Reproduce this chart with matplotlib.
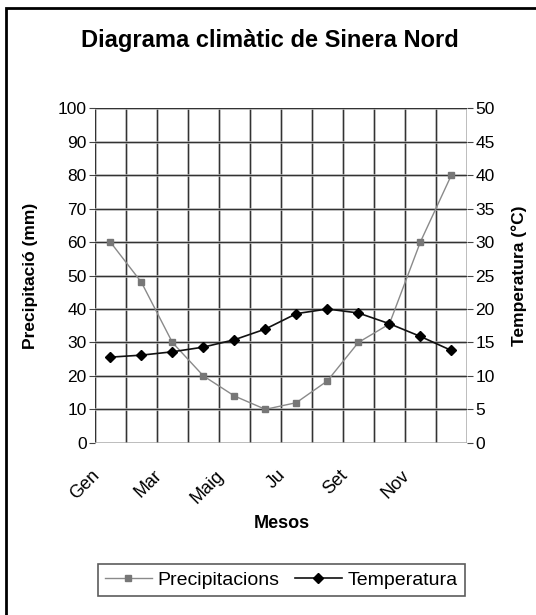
import matplotlib
matplotlib.use("Agg")
import matplotlib.pyplot as plt
from matplotlib.patches import Rectangle
from matplotlib.transforms import ScaledTranslation
import numpy as np

plt.rcParams['font.family'] = ['Liberation Sans', 'DejaVu Sans']

# Data
months = ['Gen', 'Feb', 'Mar', 'Abr', 'Maig', 'Jun', 'Ju', 'Ago', 'Set', 'Oct', 'Nov', 'Des']
precipitacions = [60, 48, 30, 20, 14, 10, 12, 18.5, 30, 35.5, 60, 80]
temperatura = [12.8, 13.1, 13.6, 14.3, 15.4, 17.0, 19.3, 20.0, 19.4, 17.8, 15.9, 13.8]
tick_labels = ['Gen', 'Mar', 'Maig', 'Ju', 'Set', 'Nov']

fig = plt.figure(figsize=(5.36, 6.15), dpi=100)
ax = fig.add_axes([0.177, 0.280, 0.694, 0.544])
ax2 = ax.twinx()

x = np.arange(len(months))

# grid
for v in np.arange(-0.5, len(months), 1.0):
    ax.axvline(v, color='#b5b5b5', lw=1.8, zorder=0)
    ax.axvline(v, color='#333333', lw=0.8, zorder=0)
for h in range(0, 101, 10):
    ax.axhline(h, color='#b5b5b5', lw=1.8, zorder=0)
    ax.axhline(h, color='#333333', lw=0.8, zorder=0)

ax.plot(x, precipitacions, color='#8a8a8a', lw=1.0, marker='s', ms=5,
        mfc='#777777', mec='#777777', label='Precipitacions', zorder=3)
ax2.plot(x, temperatura, color='#111111', lw=1.2, marker='D', ms=5,
         mfc='#000000', mec='#000000', label='Temperatura', zorder=3)

ax.set_xlim(-0.5, len(months) - 0.5)
ax.set_ylim(0, 100)
ax2.set_ylim(0, 50)
ax.set_yticks(range(0, 101, 10))
ax2.set_yticks(range(0, 51, 5))

ax.set_xticks(x[::2])
ax.set_xticklabels(tick_labels, rotation=45, ha='right', va='center',
                   rotation_mode='anchor', fontsize=13)
ax.tick_params(axis='x', length=0, pad=0, labelsize=13)
offset = ScaledTranslation(-0.13, -0.30, fig.dpi_scale_trans)
for lbl in ax.get_xticklabels():
    lbl.set_transform(lbl.get_transform() + offset)
ax.tick_params(axis='y', labelsize=12.5, length=4, color='#444444', pad=2)
ax2.tick_params(axis='y', labelsize=12.5, length=4, color='#444444', pad=2)

for a in (ax, ax2):
    for s in a.spines.values():
        s.set_visible(False)

ax.set_ylabel('Precipitació (mm)', fontsize=12.5, fontweight='bold', labelpad=14)
ax2.set_ylabel('Temperatura (°C)', fontsize=12.5, fontweight='bold', rotation=90, labelpad=12)

fig.text(0.526, 1 - 524 / 615, 'Mesos', ha='center', va='center',
         fontsize=13, fontweight='bold')
fig.text(0.503, 1 - 40 / 615, 'Diagrama climàtic de Sinera Nord', ha='center', va='center',
         fontsize=17, fontweight='bold')

h1, l1 = ax.get_legend_handles_labels()
h2, l2 = ax2.get_legend_handles_labels()
leg = fig.legend(h1 + h2, l1 + l2, loc='center', bbox_to_anchor=(0.525, 0.057), ncol=2,
                 fontsize=14, frameon=True, fancybox=False, edgecolor='#333333',
                 handlelength=2.4, columnspacing=0.8, borderpad=0.35, handletextpad=0.3)
leg.get_frame().set_linewidth(1.2)

# only the top and left edges of the outer frame fall inside the picture
fig.patches.append(Rectangle((6 / 536, -0.1), 1.2, 1.1 - 8 / 615, transform=fig.transFigure,
                             fill=False, edgecolor='black', lw=2.0))

fig.savefig('out.png', dpi=100)
